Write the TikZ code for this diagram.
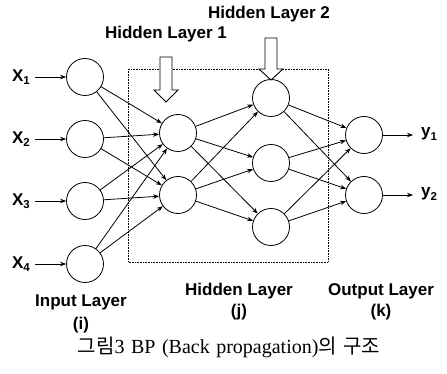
\documentclass[tikz,border=0pt]{standalone}
\usepackage{fontspec}
\setmainfont{Liberation Serif}
\setsansfont{Liberation Sans}
\newfontfamily\kor{Noto Sans CJK KR}
\usetikzlibrary{arrows.meta}
\newcommand{\sbx}[1]{\raisebox{-3.5pt}{\fontsize{11.5}{12}\selectfont #1}}
\begin{document}
\begin{tikzpicture}[x=1pt,y=-1pt,
  neuron/.style={circle,draw,line width=0.8pt,minimum size=37pt,inner sep=0pt},
  conn/.style={line width=0.8pt,-{Stealth[length=6pt,width=4.5pt]}},
  lbl/.style={font=\sffamily\bfseries\fontsize{17}{19}\selectfont,inner sep=0pt},
  blockarrow/.style={draw,line width=0.9pt,fill=white}]
\useasboundingbox (0,0) rectangle (447,374);
% dotted box
\draw[line width=0.6pt,densely dotted] (128,69) rectangle (328,262);
% neurons
\node[neuron] (i1) at (85,77) {};
\node[neuron] (i2) at (85,139) {};
\node[neuron] (i3) at (85,201) {};
\node[neuron] (i4) at (85,264) {};
\node[neuron] (h1) at (178,133) {};
\node[neuron] (h2) at (178,195) {};
\node[neuron] (g1) at (271,98) {};
\node[neuron] (g2) at (271,163) {};
\node[neuron] (g3) at (271,227) {};
\node[neuron] (o1) at (364,135) {};
\node[neuron] (o2) at (364,195) {};
% inputs
\foreach \k/\y in {1/77,2/139,3/201,4/264}{
  \node[lbl,anchor=east] (x\k) at (30,\y) {X\sbx{\k}};
  \draw[conn] (x\k.east) ++(5,0) coordinate (xs\k) -- (i\k);
}
% outputs
\coordinate (ye1) at (413,135);
\coordinate (ye2) at (413,195);
\draw[conn] (o1) -- (ye1);
\draw[conn] (o2) -- (ye2);
\node[lbl,anchor=west] (y1) at (421,134) {y\sbx{1}};
\node[lbl,anchor=west] (y2) at (421,194) {y\sbx{2}};
% connections
\foreach \a in {i1,i2,i3,i4}{\foreach \b in {h1,h2}{\draw[conn] (\a) -- (\b);}}
\foreach \a in {h1,h2}{\foreach \b in {g1,g2,g3}{\draw[conn] (\a) -- (\b);}}
\foreach \a in {g1,g2,g3}{\foreach \b in {o1,o2}{\draw[conn] (\a) -- (\b);}}
% block arrows
\draw[blockarrow] (160,57) -- (172,57) -- (172,90) -- (178,90) -- (166,102) -- (154,90) -- (160,90) -- cycle;
\draw[blockarrow] (265,38) -- (277,38) -- (277,69) -- (283,69) -- (271,80) -- (259,69) -- (265,69) -- cycle;
% labels
\node[lbl] (hl2) at (269,14) {Hidden Layer 2};
\node[lbl] (hl1) at (166,34) {Hidden Layer 1};
\node[lbl] (il) at (81,302) {Input Layer};
\node[lbl] (ii) at (81,325) {(i)};
\node[lbl] (hl) at (239,291) {Hidden Layer};
\node[lbl] (jj) at (239,312) {(j)};
\node[lbl] (ol) at (381,291) {Output Layer};
\node[lbl] (kk) at (381,312) {(k)};
\node[inner sep=0pt,font=\fontsize{20}{22}\selectfont] (cap) at (229,347) {\spaceskip=6.5pt {\kor 그림}3 BP (Back propagation){\kor 의 구조}};
\end{tikzpicture}
\end{document}
